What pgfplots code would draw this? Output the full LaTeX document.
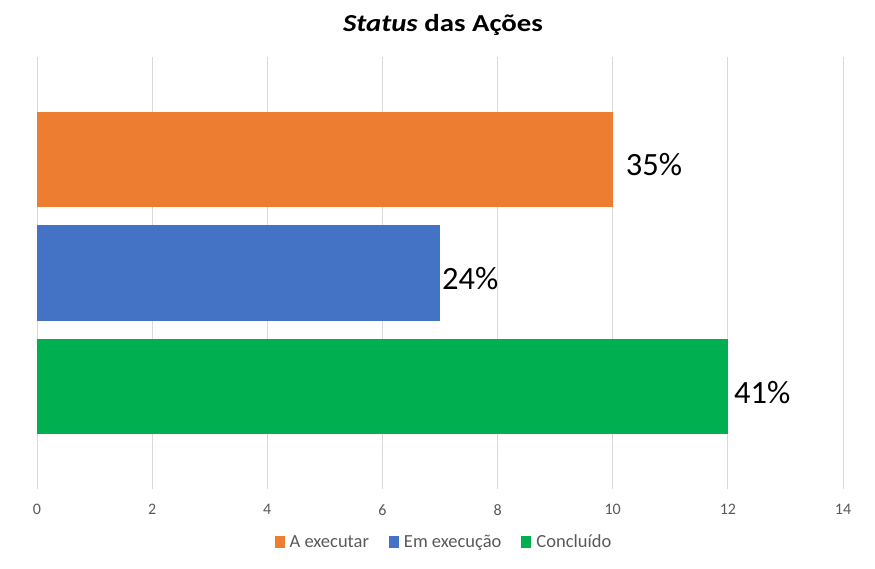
\documentclass[border=0pt]{standalone}
\usepackage{pgfplots}
\pgfplotsset{compat=1.18}
\usepackage{graphicx}
\usepackage{fontspec}
\setmainfont{Carlito}
\definecolor{cOrange}{HTML}{ED7D31}
\definecolor{cBlue}{HTML}{4472C4}
\definecolor{cGreen}{HTML}{00B050}
\definecolor{cText}{HTML}{595959}
\definecolor{cGrid}{HTML}{D9D9D9}
\begin{document}
\begin{tikzpicture}
\useasboundingbox (0pt,0pt) rectangle (875pt,569pt);
\node[anchor=base, font=\bfseries\fontsize{24.4}{27}\selectfont, text=black] at (443pt,537.3pt) {\scalebox{1.18}[1]{\textit{Status} das Ações}};
\begin{axis}[
  at={(37pt,80pt)}, anchor=south west,
  scale only axis, width=806pt, height=432pt,
  xmin=0, xmax=14, ymin=-0.9, ymax=2.9,
  xtick={0,2,...,14}, ytick=\empty,
  xmajorgrids, grid style={cGrid, line width=0.8pt},
  axis line style={draw=none}, tick style={draw=none},
  /pgf/number format/assume math mode=true,
  xticklabel style={font=\fontsize{16}{18}\selectfont, text=cText, anchor=north, inner sep=0pt, yshift=-15pt},
  legend columns=3,
  legend style={at={(0.5043,-0.1227)}, anchor=center, draw=none, fill=none,
    font=\fontsize{18.5}{20}\selectfont, text=cText,
    /tikz/every odd column/.append style={column sep=4pt},
    /tikz/every even column/.append style={column sep=19pt},
    nodes={inner sep=1pt}},
  legend image code/.code={\fill[#1] (0pt,-6pt) rectangle (10pt,6pt);},
  every node near coord/.append style={font=\fontsize{32.5}{36}\selectfont, text=black, anchor=west, inner sep=0pt, yshift=-5.5pt},
]
\addplot[xbar, bar shift=0pt, bar width=0.84, fill=cOrange, draw=none,
  nodes near coords={35\%}, every node near coord/.append style={xshift=13pt}]
  coordinates {(10,2)};
\addlegendentry{A executar}
\addplot[xbar, bar shift=0pt, bar width=0.84, fill=cBlue, draw=none,
  nodes near coords={24\%}, every node near coord/.append style={xshift=2pt}]
  coordinates {(7,1)};
\addlegendentry{Em execução}
\addplot[xbar, bar shift=0pt, bar width=0.84, fill=cGreen, draw=none,
  nodes near coords={41\%}, every node near coord/.append style={xshift=6pt}]
  coordinates {(12,0)};
\addlegendentry{Concluído}
\end{axis}
\end{tikzpicture}
\end{document}
